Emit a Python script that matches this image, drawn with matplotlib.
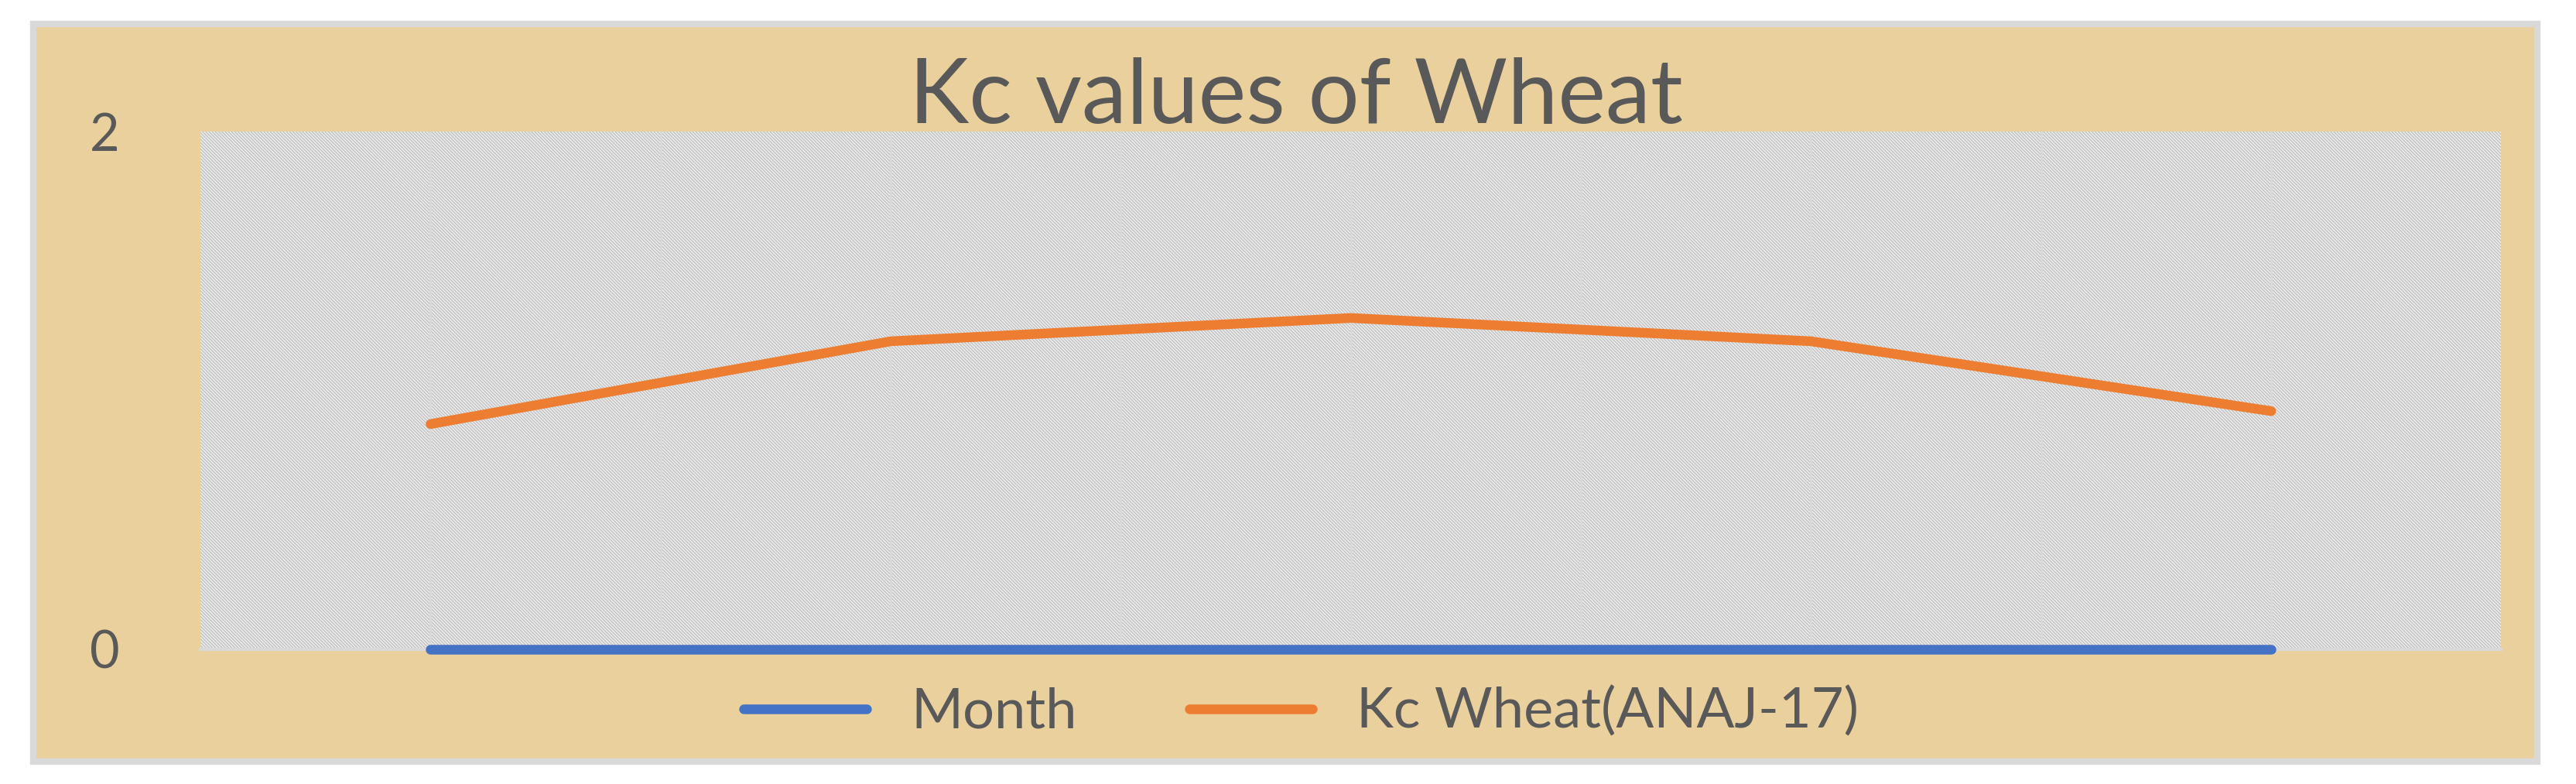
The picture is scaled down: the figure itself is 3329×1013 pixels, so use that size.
import matplotlib
matplotlib.use("Agg")
import matplotlib.pyplot as plt
from matplotlib.patches import Rectangle

x_pos = [1, 3, 5, 7, 9]
month = [0, 0, 0, 0, 0]
kc_wheat = [0.87, 1.19, 1.28, 1.19, 0.92]
y_ticks = [0, 2]
title = "Kc values of Wheat"
legend_labels = ["Month", "Kc Wheat(ANAJ-17)"]

plt.rcParams['font.family'] = ['Lato', 'DejaVu Sans']
plt.rcParams['hatch.color'] = '#C8C8C8'
plt.rcParams['hatch.linewidth'] = 1.5

fig = plt.figure(figsize=(33.3, 10.13), dpi=100)
fig.patch.set_facecolor('white')

bg = fig.add_axes([0, 0, 1, 1], zorder=-5)
bg.set_xlim(0, 1); bg.set_ylim(0, 1); bg.axis('off')
bg.add_patch(Rectangle((0.0128, 0.029), 0.972, 0.94, facecolor='#E9D09C',
                       edgecolor='#D9D9D9', linewidth=6))

ax = fig.add_axes([0.0778, 0.172, 0.8929, 0.66], zorder=1)
ax.set_facecolor('white')
ax.add_patch(Rectangle((0, 0), 1, 1, transform=ax.transAxes, facecolor='white',
                       edgecolor='#C8C8C8', hatch='\\' * 8, linewidth=0, zorder=0))
ax.set_xlim(0, 10)
ax.set_ylim(0, 2)
for xv in range(1, 10):
    ax.axvline(xv, color='#D9D9D9', linewidth=2, zorder=1)
ax.plot(x_pos, month, color='#4472C4', linewidth=9, solid_capstyle='round', zorder=3, label=legend_labels[0], clip_on=False)
ax.plot(x_pos, kc_wheat, color='#ED7D31', linewidth=9, solid_capstyle='round', zorder=3, label=legend_labels[1])
ax.set_yticks(y_ticks)
ax.set_yticklabels([str(v) for v in y_ticks], fontsize=48, color='#595959')
ax.tick_params(axis='y', length=0, pad=75)
ax.set_xticks([])
for s in ['top', 'right', 'left']:
    ax.spines[s].set_visible(False)
ax.spines['bottom'].set_color('#D9D9D9')
ax.spines['bottom'].set_linewidth(3)

fig.text(0.503, 0.875, title, ha='center', va='center', fontsize=84, color='#595959')
fig.legend(loc='center', bbox_to_anchor=(0.505, 0.092), ncol=2, frameon=False,
           fontsize=52, labelcolor='#595959', handlelength=2.2, columnspacing=2.0)
fig.savefig('out.png', dpi=100)
